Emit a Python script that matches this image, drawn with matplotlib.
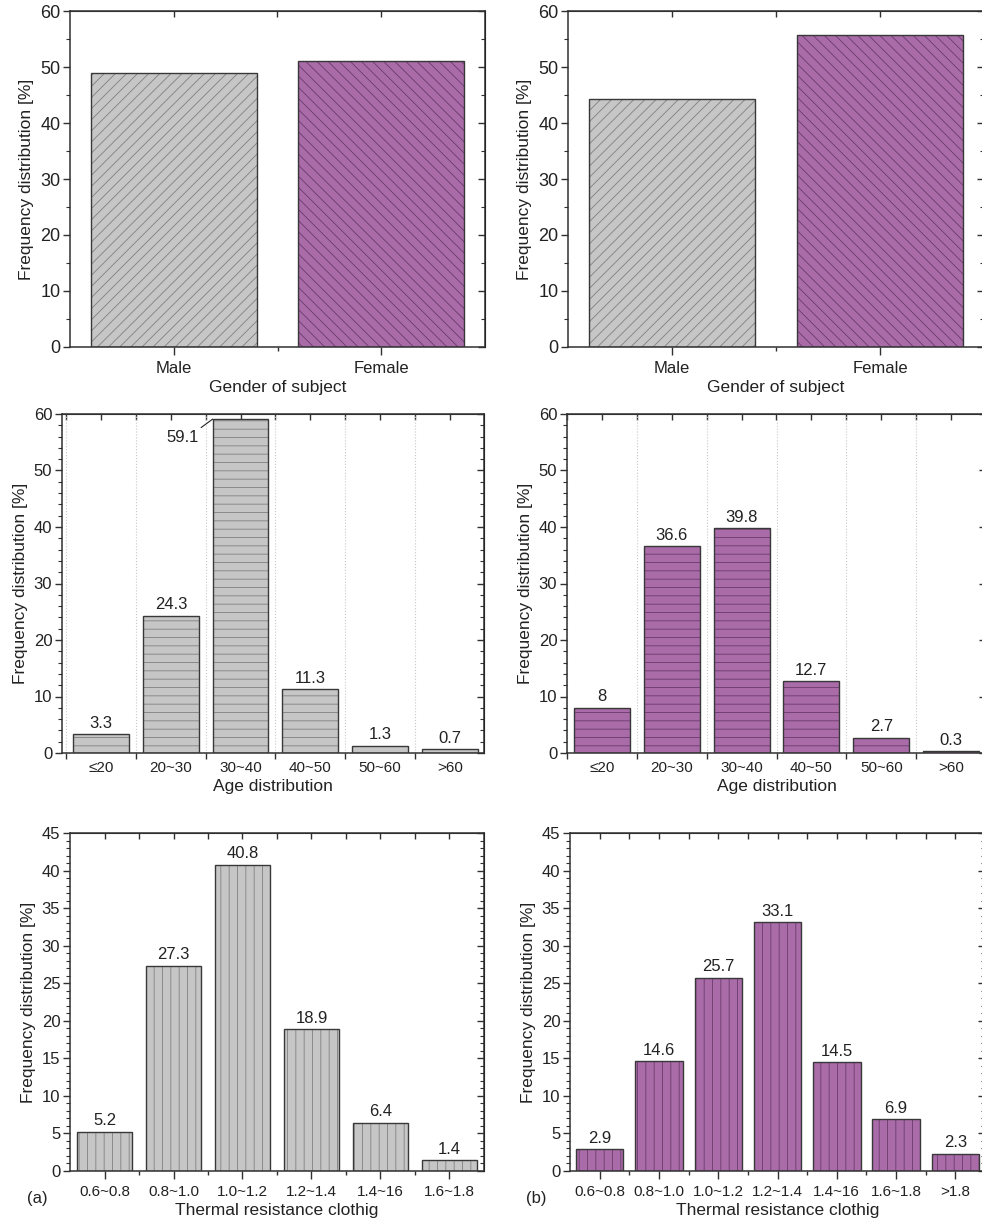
import matplotlib
matplotlib.use('Agg')
import matplotlib.pyplot as plt
from matplotlib.ticker import MultipleLocator, FixedLocator
import numpy as np

plt.rcParams['font.family'] = ['Liberation Sans', 'DejaVu Sans']
plt.rcParams['hatch.linewidth'] = 0.6

# ---------------- data ----------------
gender_cats = ['Male', 'Female']
gender_a = [48.9, 51.1]
gender_b = [44.3, 55.8]

age_cats = ['≤20', '20~30', '30~40', '40~50', '50~60', '>60']
age_a = [3.3, 24.3, 59.1, 11.3, 1.3, 0.7]
age_b = [8, 36.6, 39.8, 12.7, 2.7, 0.3]

clo_cats_a = ['0.6~0.8', '0.8~1.0', '1.0~1.2', '1.2~1.4', '1.4~16', '1.6~1.8']
clo_a = [5.2, 27.3, 40.8, 18.9, 6.4, 1.4]
clo_cats_b = ['0.6~0.8', '0.8~1.0', '1.0~1.2', '1.2~1.4', '1.4~16', '1.6~1.8', '>1.8']
clo_b = [2.9, 14.6, 25.7, 33.1, 14.5, 6.9, 2.3]

# ---------------- style ----------------
GRAY = '#c6c6c6'
GRAY_H = '#808080'
PURP = '#a96ca9'
PURP_H = '#6a3a6a'
EDGE = '#383838'
SPINE = '#303030'

W, H = 982, 1218
fig = plt.figure(figsize=(W / 100, H / 100), dpi=100)


def make_ax(l, t, r, b):
    return fig.add_axes([l / W, 1 - b / H, (r - l) / W, (b - t) / H])


def draw(ax, cats, vals, fills, hcols, hatches, ymax, ymaj, ymin, xlim,
         mode, xlabel, tickfs, valfs, show_vals=True):
    x = np.arange(len(cats))
    bars = ax.bar(x, vals, 0.8, color=fills, edgecolor=hcols, linewidth=0, zorder=2)
    for p, h in zip(bars, hatches):
        p.set_hatch(h)
    ax.bar(x, vals, 0.8, fill=False, edgecolor=EDGE, linewidth=1.0, zorder=3)
    ax.set_xlim(*xlim)
    ax.set_ylim(0, ymax)
    for s in ax.spines.values():
        s.set_color(SPINE)
        s.set_linewidth(1.1)
    ax.set_xticks(x)
    ax.set_xticklabels(cats, fontsize=tickfs)
    bounds = np.arange(len(cats) + 1) - 0.5
    if mode == 'center':
        ax.xaxis.set_minor_locator(FixedLocator(bounds[1:-1]))
        ax.tick_params(axis='x', which='major', direction='out', length=6, width=1, pad=4, colors=SPINE)
        ax.tick_params(axis='x', which='minor', direction='out', length=3, width=1, colors=SPINE)
        top_ticks = list(x) + list(bounds[1:-1])
    else:
        ax.xaxis.set_minor_locator(FixedLocator(bounds))
        ax.tick_params(axis='x', which='major', direction='out', length=0, pad=6, colors=SPINE)
        ax.tick_params(axis='x', which='minor', direction='out', length=4, width=1, colors=SPINE)
        top_ticks = list(x) + list(bounds)
        ax.grid(axis='x', which='minor', linestyle=':', color='#c8c8c8', linewidth=0.8)
        ax.set_axisbelow(True)
    ax.tick_params(axis='x', labelcolor='#222222')
    ax.yaxis.set_major_locator(MultipleLocator(ymaj))
    ax.yaxis.set_minor_locator(MultipleLocator(ymin))
    ax.tick_params(axis='y', which='major', direction='out', length=5, width=1,
                   labelsize=tickfs + 1, pad=2, colors=SPINE, labelcolor='#222222')
    ax.tick_params(axis='y', which='minor', direction='out', length=3, width=0.8, colors=SPINE)

    sec = ax.secondary_xaxis('top')
    sec.set_xticks(top_ticks)
    sec.tick_params(axis='x', direction='in', length=4, width=1, labeltop=False, colors=SPINE)
    sec.spines['top'].set_color(SPINE)
    secy = ax.secondary_yaxis('right')
    secy.yaxis.set_major_locator(MultipleLocator(ymaj))
    secy.yaxis.set_minor_locator(MultipleLocator(ymin))
    secy.tick_params(axis='y', which='major', direction='in', length=5, width=1, labelright=False, colors=SPINE)
    secy.tick_params(axis='y', which='minor', direction='in', length=3, width=0.8, colors=SPINE)

    ax.set_xlabel(xlabel, fontsize=12.5, labelpad=3, color='#222222')
    ax.set_ylabel('Frequency distribution [%]', fontsize=12.5, labelpad=4, color='#222222')

    if show_vals:
        for xi, v in zip(x, vals):
            lab = f"{v:g}"
            if v > ymax * 0.95:
                ax.annotate(lab, xy=(xi - 0.4, v), xytext=(-22, -13), textcoords='offset points',
                            ha='center', va='center', fontsize=valfs, color='#222222',
                            arrowprops=dict(arrowstyle='-', lw=0.8, color='#222222',
                                            relpos=(1.0, 1.0), shrinkA=0, shrinkB=0))
            else:
                ax.annotate(lab, xy=(xi, v), xytext=(0, 2.5), textcoords='offset points',
                            ha='center', va='bottom', fontsize=valfs, color='#222222')


# Top row: gender
ax = make_ax(70, 11, 485, 347)
draw(ax, gender_cats, gender_a, [GRAY, PURP], [GRAY_H, PURP_H], ['///', '\\\\\\'],
     60, 10, 5, (-0.5, 1.5), 'center', 'Gender of subject', 12, 12, show_vals=False)
ax = make_ax(568, 11, 984, 347)
draw(ax, gender_cats, gender_b, [GRAY, PURP], [GRAY_H, PURP_H], ['///', '\\\\\\'],
     60, 10, 5, (-0.5, 1.5), 'center', 'Gender of subject', 12, 12, show_vals=False)

# Middle row: age
n = len(age_cats)
ax = make_ax(62, 414, 484, 753)
draw(ax, age_cats, age_a, [GRAY] * n, [GRAY_H] * n, ['--'] * n,
     60, 10, 2, (-0.56, 5.49), 'bounds', 'Age distribution', 11, 12)
ax = make_ax(567, 414, 986, 753)
draw(ax, age_cats, age_b, [PURP] * n, [PURP_H] * n, ['--'] * n,
     60, 10, 2, (-0.5, 5.5), 'bounds', 'Age distribution', 11, 12)

# Bottom row: clothing
n = len(clo_cats_a)
ax = make_ax(70, 833, 484, 1171)
draw(ax, clo_cats_a, clo_a, [GRAY] * n, [GRAY_H] * n, ['||'] * n,
     45, 5, 1, (-0.5, 5.5), 'center', 'Thermal resistance clothig', 11, 12)
n = len(clo_cats_b)
ax = make_ax(570, 833, 985, 1171)
draw(ax, clo_cats_b, clo_b, [PURP] * n, [PURP_H] * n, ['||'] * n,
     45, 5, 1, (-0.5, 6.5), 'center', 'Thermal resistance clothig', 11, 12)

fig.text(27 / W, 1 - 1198 / H, '(a)', fontsize=12, va='center', ha='left', color='#222222')
fig.text(526 / W, 1 - 1198 / H, '(b)', fontsize=12, va='center', ha='left', color='#222222')

fig.savefig('out.png', dpi=100)
